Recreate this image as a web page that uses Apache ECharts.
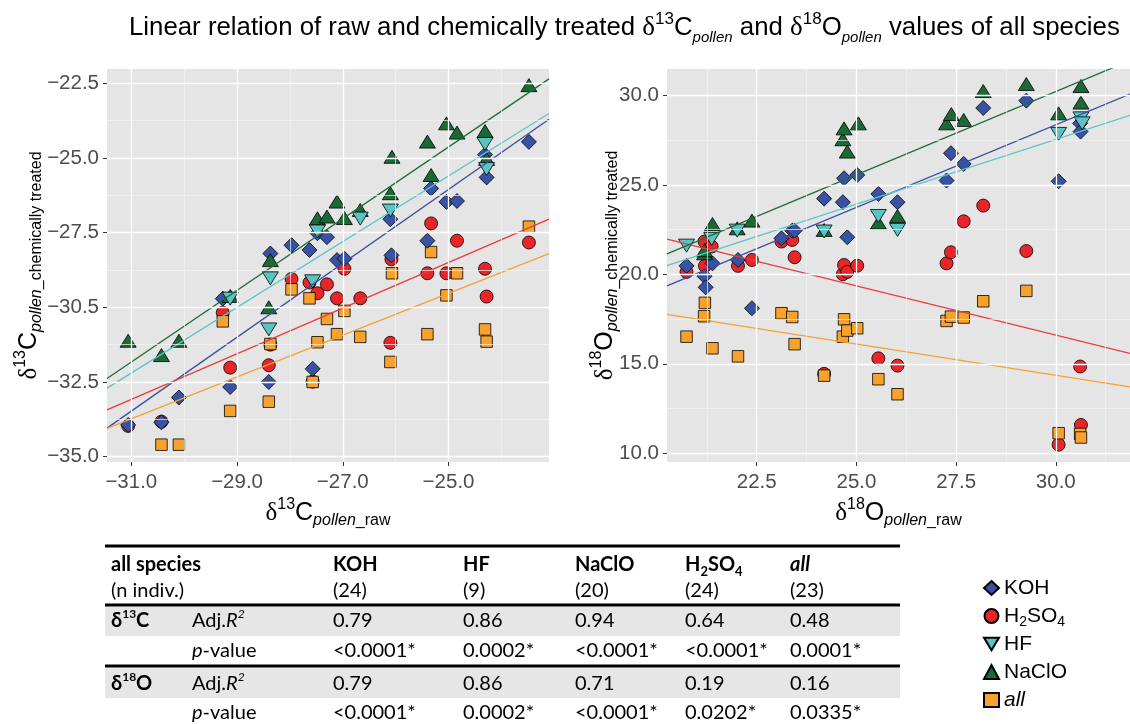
<!DOCTYPE html>
<html><head><meta charset="utf-8">
<script src="https://cdn.jsdelivr.net/npm/echarts@6/dist/echarts.min.js"></script>
<style>html,body{margin:0;padding:0;background:#fff}#c{width:1130px;height:724px}</style>
</head><body><div id="c"></div>
<script>
// ---------- DATA ----------
const names = ['KOH', 'H2SO4', 'HF', 'NaClO', 'all'];
// delta13C : [raw, chemically treated]
const c13_KOH = [[-31.06,-33.94],[-30.43,-33.85],[-30.10,-33.02],[-29.27,-29.71],[-29.13,-32.67],[-28.37,-28.20],[-28.40,-32.50],[-27.97,-27.92],[-27.63,-28.08],[-27.57,-32.06],[-27.48,-27.52],[-27.30,-27.65],[-27.11,-28.42],[-26.97,-28.37],[-26.10,-27.05],[-26.08,-28.26],[-25.40,-27.77],[-25.33,-26.02],[-25.04,-26.47],[-24.84,-26.44],[-24.31,-24.89],[-24.28,-25.65],[-23.48,-24.46]];
const c13_H2SO4 = [[-31.06,-33.97],[-30.43,-33.83],[-29.27,-30.18],[-29.13,-32.02],[-28.37,-31.25],[-28.40,-31.94],[-27.97,-29.05],[-27.63,-29.17],[-27.48,-29.53],[-27.30,-29.23],[-27.11,-29.70],[-26.97,-28.71],[-26.67,-29.70],[-27.57,-32.49],[-26.10,-31.19],[-26.08,-28.39],[-25.40,-28.86],[-25.33,-27.19],[-25.04,-28.86],[-24.84,-27.77],[-24.31,-28.71],[-24.28,-29.64],[-23.48,-27.83]];
const c13_HF = [[-29.13,-29.71],[-28.37,-29.03],[-28.40,-30.74],[-27.48,-27.46],[-27.57,-29.13],[-26.67,-27.03],[-26.10,-26.76],[-24.31,-24.53],[-24.28,-25.37]];
const c13_NaClO = [[-31.06,-31.12],[-30.43,-31.60],[-30.10,-31.12],[-29.13,-29.62],[-28.37,-28.42],[-28.40,-30.00],[-27.48,-27.02],[-27.30,-26.96],[-27.11,-26.46],[-26.97,-27.01],[-26.67,-26.74],[-26.10,-26.18],[-26.07,-24.96],[-25.40,-24.45],[-25.33,-25.57],[-25.04,-23.84],[-24.84,-24.15],[-24.31,-24.10],[-24.28,-25.03],[-23.48,-22.56]];
const c13_all = [[-30.43,-34.60],[-30.10,-34.60],[-29.27,-30.47],[-29.13,-33.47],[-28.37,-31.23],[-28.40,-33.16],[-27.97,-29.40],[-27.63,-29.70],[-27.57,-32.50],[-27.48,-31.17],[-27.30,-30.39],[-27.11,-30.90],[-26.97,-30.12],[-26.67,-30.99],[-26.10,-31.83],[-26.07,-28.86],[-25.40,-30.90],[-25.33,-28.15],[-25.04,-29.60],[-24.84,-28.86],[-24.31,-30.74],[-24.28,-31.15],[-23.48,-27.30]];
// delta18O : [raw, chemically treated]
const o18_KOH = [[20.74,20.48],[21.19,19.90],[21.22,19.28],[21.39,20.62],[22.03,20.81],[22.38,18.11],[23.12,22.02],[23.39,22.45],[23.45,22.45],[24.19,24.24],[24.66,24.04],[24.69,25.38],[24.77,22.08],[25.02,25.56],[25.55,24.50],[26.03,24.04],[27.26,25.25],[27.37,26.78],[27.69,26.18],[28.18,29.31],[29.26,29.72],[30.07,25.21],[30.61,28.45],[30.62,27.99]];
const o18_H2SO4 = [[20.74,20.14],[21.19,21.84],[21.20,20.48],[21.37,21.56],[22.03,20.48],[22.38,20.81],[23.12,21.84],[23.39,21.93],[23.45,20.96],[24.19,14.44],[24.66,20.01],[24.69,20.53],[24.77,20.14],[25.02,20.49],[25.55,15.31],[26.03,14.90],[27.26,20.62],[27.37,21.24],[27.69,22.97],[28.18,23.85],[29.26,21.31],[30.07,10.48],[30.61,14.85],[30.63,11.58]];
const o18_HF = [[20.74,21.61],[21.37,21.99],[22.01,22.45],[24.19,22.40],[25.55,23.27],[26.03,22.49],[30.07,27.86],[30.63,28.73],[30.66,28.45]];
const o18_NaClO = [[21.19,21.18],[21.19,21.35],[21.39,22.82],[22.01,22.58],[22.38,23.01],[24.19,22.49],[24.66,27.56],[24.69,28.17],[24.77,26.87],[25.05,28.45],[25.55,22.90],[26.03,23.27],[27.26,28.45],[27.38,28.97],[27.69,28.64],[28.18,30.26],[29.26,30.65],[30.07,29.01],[30.63,30.54],[30.63,29.61]];
const o18_all = [[20.74,16.52],[21.18,17.66],[21.20,18.41],[21.39,15.87],[22.03,15.42],[23.12,17.83],[23.39,17.62],[23.45,16.10],[24.19,14.34],[24.66,16.52],[24.69,17.49],[24.77,16.86],[25.02,16.99],[25.55,14.14],[26.03,13.30],[27.26,17.40],[27.37,17.64],[27.69,17.59],[28.18,18.50],[29.26,19.08],[30.07,11.12],[30.61,11.08],[30.63,10.88]];
// linear fits (order = names): slope, intercept
const fitC_slope = [1.237, 0.764, 1.10, 1.20, 0.70];
const fitC_icpt  = [4.87, -9.40, 1.90, 5.37, -12.03];
const fitO_slope = [0.924, -0.55, 0.724, 0.931, -0.35];
const fitO_icpt  = [0.65, 33.11, 5.83, 2.30, 24.86];
// axes
const cX_ticks = [-31, -29, -27, -25];
const cX_labels = ['\u221231.0', '\u221229.0', '\u221227.0', '\u221225.0'];
const cX_minor = [-30, -28, -26, -24];
const cY_ticks = [-35, -32.5, -30, -27.5, -25, -22.5];
const cY_labels = ['\u221235.0', '\u221232.5', '\u221230.5', '\u221227.5', '\u221225.0', '\u221222.5'];
const cY_minor = [-33.75, -31.25, -28.75, -26.25, -23.75];
const oX_ticks = [22.5, 25, 27.5, 30];
const oX_labels = ['22.5', '25.0', '27.5', '30.0'];
const oX_minor = [21.25, 23.75, 26.25, 28.75, 31.25];
const oY_ticks = [10, 15, 20, 25, 30];
const oY_labels = ['10.0', '15.0', '20.0', '25.0', '30.0'];
const oY_minor = [12.5, 17.5, 22.5, 27.5];
// table
const tblCols = ['KOH', 'HF', 'NaClO', 'H2SO4', 'all'];
const tblN = ['(24)', '(9)', '(20)', '(24)', '(23)'];
const tblC_r2 = ['0.79', '0.86', '0.94', '0.64', '0.48'];
const tblC_p = ['<0.0001*', '0.0002*', '<0.0001*', '<0.0001*', '0.0001*'];
const tblO_r2 = ['0.79', '0.86', '0.71', '0.19', '0.16'];
const tblO_p = ['<0.0001*', '0.0002*', '<0.0001*', '0.0202*', '0.0335*'];

// ---------- STYLE ----------
const fills = {KOH:'#3953A4', H2SO4:'#E8262A', HF:'#5BC3C3', NaClO:'#1B6A36', all:'#F8A22E'};
const lineCols = {KOH:'#3A4DA3', H2SO4:'#EE3A3A', HF:'#5AC6C6', NaClO:'#1F6C3A', all:'#F7A030'};
const downTri = 'path://M0,0L20,0L10,17Z';
const symbols = {KOH:['diamond',15], H2SO4:['circle',13], HF:[downTri,[16,13]], NaClO:['triangle',[16,13]], all:['rect',11.5]};
const drawOrder = ['H2SO4', 'all', 'KOH', 'NaClO', 'HF'];
const SANS = "Arial, 'Liberation Sans', Helvetica, sans-serif";
const SERIF = "'Times New Roman', 'Liberation Serif', serif";

const C = {
  c: [c13_KOH, c13_H2SO4, c13_HF, c13_NaClO, c13_all],
  o: [o18_KOH, o18_H2SO4, o18_HF, o18_NaClO, o18_all]
};
const ranges = [
  {xmin:-31.46, xmax:-23.10, ymin:-35.18, ymax:-22.02},
  {xmin:20.25, xmax:31.86, ymin:9.51, ymax:31.49}
];

const nameRich = {
  d: {fontSize:25, fontFamily:SERIF, lineHeight:32, color:'#000'},
  sup: {fontSize:16, fontFamily:SANS, lineHeight:16, verticalAlign:'top', color:'#000'},
  b: {fontSize:25, fontFamily:SANS, lineHeight:32, color:'#000'},
  it: {fontSize:16, fontFamily:SANS, fontStyle:'italic', lineHeight:16, verticalAlign:'bottom', color:'#000'},
  s: {fontSize:16, fontFamily:SANS, lineHeight:16, verticalAlign:'bottom', color:'#000'}
};

function fmtTick(ticks, labels) {
  return v => { const k = ticks.findIndex(t => Math.abs(t - v) < 1e-6); return k >= 0 ? labels[k] : ''; };
}
function xAx(i, ticks, labels, name) {
  const r = ranges[i];
  return {gridIndex:i, type:'value', min:r.xmin, max:r.xmax,
    name, nameLocation:'middle', nameGap:35, nameMoveOverlap:false, nameTextStyle:{rich:nameRich, lineHeight:32},
    axisLine:{show:false}, splitLine:{show:false},
    axisTick:{show:true, length:4, customValues:ticks, lineStyle:{color:'#333', width:1}},
    axisLabel:{customValues:ticks, formatter:fmtTick(ticks, labels),
      color:'#4D4D4D', fontSize:20.5, fontFamily:SANS, margin:10}};
}
function yAx(i, ticks, labels, name, gap) {
  const r = ranges[i];
  return {gridIndex:i, type:'value', min:r.ymin, max:r.ymax,
    name, nameLocation:'middle', nameGap:gap, nameMoveOverlap:false, nameRotate:90, nameTextStyle:{rich:nameRich, lineHeight:32},
    axisLine:{show:false}, splitLine:{show:false},
    axisTick:{show:true, length:4, customValues:ticks, lineStyle:{color:'#333', width:1}},
    axisLabel:{customValues:ticks, formatter:fmtTick(ticks, labels),
      color:'#4D4D4D', fontSize:20.5, fontFamily:SANS, margin:8}};
}

function gridLines(i, majX, minX, majY, minY) {
  const r = ranges[i];
  const maj = {color:'#FFFFFF', width:1.3, type:'solid'};
  const mnr = {color:'#F4F4F4', width:0.7, type:'solid'};
  const d = [];
  minX.forEach(v => d.push({xAxis:v, lineStyle:mnr}));
  minY.forEach(v => d.push({yAxis:v, lineStyle:mnr}));
  majX.forEach(v => d.push({xAxis:v, lineStyle:maj}));
  majY.forEach(v => d.push({yAxis:v, lineStyle:maj}));
  return {type:'line', xAxisIndex:i, yAxisIndex:i, z:1, silent:true, symbol:'none', symbolSize:0,
    data:[[r.xmin, r.ymin]], lineStyle:{width:0},
    markLine:{silent:true, symbol:['none','none'], animation:false, label:{show:false},
      lineStyle:{type:'solid'}, emphasis:{disabled:true}, data:d}};
}

const series = [
  gridLines(0, cX_ticks, cX_minor, cY_ticks, cY_minor),
  gridLines(1, oX_ticks, oX_minor, oY_ticks, oY_minor)
];
['c', 'o'].forEach((key, gi) => {
  drawOrder.forEach(nm => {
    const k = names.indexOf(nm);
    series.push({type:'scatter', name:nm, xAxisIndex:gi, yAxisIndex:gi, z:2,
      data:C[key][k], symbol:symbols[nm][0], symbolSize:symbols[nm][1],
      itemStyle:{color:fills[nm], borderColor:'#000', borderWidth:0.8, opacity:1},
      emphasis:{disabled:true}});
  });
  names.forEach((nm, k) => {
    const r = ranges[gi];
    const m = gi === 0 ? fitC_slope[k] : fitO_slope[k];
    const b = gi === 0 ? fitC_icpt[k] : fitO_icpt[k];
    series.push({type:'line', name:'fit_' + key + '_' + nm, xAxisIndex:gi, yAxisIndex:gi, z:3,
      data:[[r.xmin, m * r.xmin + b], [r.xmax, m * r.xmax + b]],
      symbol:'none', clip:true, silent:true,
      lineStyle:{color:lineCols[nm], width:1.3}, emphasis:{disabled:true}});
  });
});

// table graphics
const TF = "Lato, 'Open Sans', sans-serif";
const colX = [333, 463, 575, 685, 790];
const rowY = [565, 591, 621, 651, 684, 713];
const g = [];
g.push({type:'rect', shape:{x:105, y:607, width:795, height:29}, style:{fill:'#E6E6E6'}});
g.push({type:'rect', shape:{x:105, y:668, width:795, height:30}, style:{fill:'#E6E6E6'}});
[546, 605, 666].forEach(y => g.push({type:'line', shape:{x1:105, y1:y, x2:900, y2:y}, style:{stroke:'#000', lineWidth:3}}));
const tRich = {
  sub:{fontSize:13, lineHeight:13, verticalAlign:'bottom', fontFamily:TF, fontWeight:'bold'},
  sup:{fontSize:12, lineHeight:12, verticalAlign:'top', fontFamily:TF, fontWeight:'bold'},
  supn:{fontSize:12, lineHeight:12, verticalAlign:'top', fontFamily:TF, fontStyle:'italic'},
  it:{fontStyle:'italic', fontSize:20, lineHeight:26, fontFamily:TF},
  bi:{fontStyle:'italic', fontWeight:'bold', fontSize:20, lineHeight:26, fontFamily:TF}
};
function txt(x, y, text, bold) {
  g.push({type:'text', x, y, style:{text, fontFamily:TF, fontSize:20, lineHeight:26, fontWeight:bold ? 'bold' : 'normal',
    fill:'#000', verticalAlign:'middle', align:'left', rich:tRich}});
}
function fmtCol(c) {
  if (c === 'H2SO4') return 'H{sub|2}SO{sub|4}';
  if (c === 'all') return '{bi|all}';
  return c;
}
txt(111, rowY[0], 'all species', true);
txt(111, rowY[1], '(n indiv.)', false);
txt(111, rowY[2], '\u03b4{sup|13}C', true);
txt(111, rowY[4], '\u03b4{sup|18}O', true);
[2, 4].forEach(r => txt(192, rowY[r], 'Adj.{it|R}{supn|2}', false));
[3, 5].forEach(r => txt(192, rowY[r], '{it|p}-value', false));
tblCols.forEach((c, i) => {
  txt(colX[i], rowY[0], fmtCol(c), true);
  txt(colX[i], rowY[1], tblN[i], false);
  txt(colX[i], rowY[2], tblC_r2[i], false);
  txt(colX[i], rowY[3], tblC_p[i], false);
  txt(colX[i], rowY[4], tblO_r2[i], false);
  txt(colX[i], rowY[5], tblO_p[i], false);
});

const option = {
  animation:false,
  backgroundColor:'#FFFFFF',
  title:{
    text:'Linear relation of raw and chemically treated {d|\u03b4}{sup|13}{n|C}{sub|pollen} and {d|\u03b4}{sup|18}{n|O}{sub|pollen} values of all species',
    left:124, top:6,
    textStyle:{fontSize:25.8, fontWeight:'normal', color:'#000', fontFamily:SANS, lineHeight:34,
      rich:{
        d:{fontSize:27, fontFamily:SERIF, lineHeight:34},
        n:{fontSize:25.8, fontFamily:SANS, lineHeight:34},
        sup:{fontSize:17, fontFamily:SANS, lineHeight:17, verticalAlign:'top'},
        sub:{fontSize:15, fontFamily:SANS, fontStyle:'italic', lineHeight:15, verticalAlign:'bottom'}
      }}
  },
  legend:{
    orient:'vertical', left:983, top:575, padding:0, height:150, itemGap:2, itemWidth:15, itemHeight:14,
    data:names, selectedMode:false,
    formatter:n => n === 'H2SO4' ? 'H{sub|2}SO{sub|4}' : (n === 'all' ? '{it|all}' : n),
    textStyle:{fontSize:21, fontFamily:SANS, color:'#000', lineHeight:26,
      rich:{sub:{fontSize:14, lineHeight:14, verticalAlign:'bottom', fontFamily:SANS, color:'#000'},
            it:{fontSize:21, fontStyle:'italic', lineHeight:26, fontFamily:SANS, color:'#000'}}}
  },
  grid:[
    {left:107, top:69, width:442, height:393, show:true, backgroundColor:'#E5E5E5', borderWidth:0},
    {left:667, top:69, width:501, height:393, show:true, backgroundColor:'#E5E5E5', borderWidth:0}
  ],
  xAxis:[
    xAx(0, cX_ticks, cX_labels, '{d|\u03b4}{sup|13}{b|C}{it|pollen}{s|_raw}'),
    xAx(1, oX_ticks, oX_labels, '{d|\u03b4}{sup|18}{b|O}{it|pollen}{s|_raw}')
  ],
  yAxis:[
    yAx(0, cY_ticks, cY_labels, '{d|\u03b4}{sup|13}{b|C}{it|pollen}{s|_chemically treated}', 62),
    yAx(1, oY_ticks, oY_labels, '{d|\u03b4}{sup|18}{b|O}{it|pollen}{s|_chemically treated}', 46)
  ],
  series,
  graphic:g
};
const chart = echarts.init(document.getElementById('c'), null, {renderer:'canvas'});
chart.setOption(option);
</script></body></html>
